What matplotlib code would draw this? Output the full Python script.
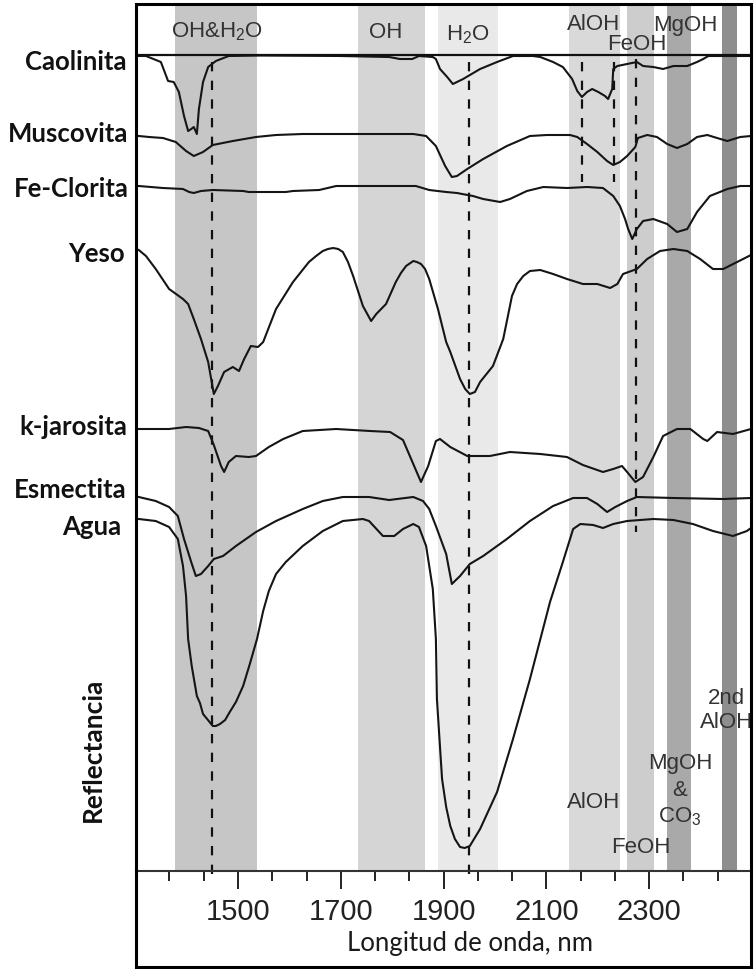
import matplotlib
matplotlib.use('Agg')
import matplotlib.pyplot as plt
import numpy as np
from matplotlib.patches import Rectangle

# --- espectros: longitud de onda (nm) y reflectancia relativa (desplazada) ---
caolinita_nm = [1307, 1321, 1350, 1364, 1375, 1385, 1395, 1403, 1409, 1414, 1420, 1424, 1432, 1442,
                1457, 1482, 1543, 1698, 1794, 1815, 1839, 1852, 1879, 1885, 1893, 1907, 1918, 1938,
                1971, 2004, 2035, 2074, 2088, 2113, 2132, 2150, 2160, 2169, 2179, 2189, 2201, 2214,
                2220, 2228, 2230, 2238, 2257, 2276, 2288, 2308, 2327, 2347, 2374, 2393, 2405, 2415, 2498]
caolinita_r = [81.5, 81.5, 80.9, 79.0, 78.9, 77.9, 75.5, 74.0, 74.2, 74.4, 73.7, 76.2, 78.9, 80.4,
               81.0, 81.5, 81.55, 81.5, 81.4, 81.2, 81.2, 81.5, 81.4, 81.2, 80.2, 79.4, 78.7, 79.2,
               80.2, 80.9, 81.5, 81.5, 81.4, 80.9, 80.4, 79.2, 78.0, 77.4, 77.9, 78.2, 77.9, 77.5,
               77.2, 78.2, 80.2, 80.5, 80.7, 80.9, 80.5, 80.4, 80.2, 80.5, 80.5, 80.9, 81.2, 81.5, 81.5]

muscovita_nm = [1307, 1327, 1354, 1379, 1399, 1414, 1432, 1451, 1490, 1535, 1574, 1626, 1691, 1755,
                1841, 1866, 1885, 1903, 1916, 1926, 1946, 1977, 2023, 2068, 2101, 2146, 2160, 2179,
                2199, 2218, 2230, 2243, 2257, 2273, 2278, 2296, 2315, 2335, 2354, 2374, 2393, 2413,
                2432, 2452, 2477, 2498]
muscovita_r = [73.5, 73.4, 73.3, 72.9, 72.0, 71.5, 71.9, 72.6, 73.0, 73.4, 73.6, 73.7, 73.7, 73.7,
               73.7, 73.5, 72.5, 70.5, 69.4, 69.5, 70.2, 71.2, 72.5, 73.5, 73.6, 73.6, 73.4, 72.7,
               71.9, 71.0, 70.6, 70.9, 71.5, 72.4, 73.3, 73.6, 73.4, 72.7, 72.3, 72.7, 73.4, 73.6,
               73.3, 73.0, 73.4, 73.5]

feclorita_nm = [1307, 1354, 1393, 1405, 1414, 1428, 1451, 1510, 1521, 1593, 1607, 1658, 1691, 1755,
                1846, 1872, 1905, 1926, 1957, 1977, 2010, 2029, 2062, 2094, 2140, 2179, 2210, 2230,
                2243, 2253, 2259, 2267, 2276, 2288, 2308, 2335, 2354, 2374, 2393, 2418, 2452, 2477, 2498]
feclorita_r = [68.5, 68.3, 68.2, 67.9, 67.8, 68.0, 68.1, 68.0, 67.9, 67.9, 68.0, 68.1, 68.5, 68.5,
               68.5, 68.1, 67.9, 67.8, 67.5, 67.2, 66.9, 67.2, 68.0, 68.4, 68.3, 68.4, 68.3, 67.5,
               66.5, 65.2, 64.2, 63.2, 64.2, 65.0, 65.2, 64.7, 63.9, 64.2, 65.9, 67.5, 68.2, 68.5, 68.5]

yeso_nm = [1307, 1321, 1340, 1366, 1393, 1403, 1414, 1428, 1442, 1453, 1461, 1473, 1490, 1502, 1512,
           1525, 1539, 1549, 1574, 1607, 1638, 1652, 1665, 1675, 1685, 1695, 1704, 1714, 1724, 1743,
           1759, 1769, 1788, 1807, 1817, 1827, 1841, 1848, 1856, 1864, 1872, 1889, 1905, 1913, 1932,
           1942, 1951, 1961, 1971, 1996, 2016, 2033, 2043, 2055, 2068, 2088, 2113, 2140, 2171, 2199,
           2224, 2238, 2249, 2276, 2296, 2321, 2347, 2374, 2399, 2424, 2444, 2471, 2498]
yeso_r = [62.1, 61.5, 60.2, 58.2, 57.2, 56.7, 55.2, 53.2, 50.9, 47.7, 48.5, 49.9, 50.4, 50.0, 51.2,
          52.5, 52.4, 52.9, 56.2, 58.9, 60.9, 61.5, 62.0, 62.2, 62.3, 62.2, 61.9, 60.9, 59.5, 56.5,
          55.0, 55.7, 56.7, 58.9, 59.8, 60.5, 61.0, 60.9, 60.7, 60.2, 59.2, 56.2, 52.9, 51.9, 49.2,
          48.2, 47.7, 47.9, 48.9, 50.5, 53.2, 57.5, 58.7, 59.5, 60.0, 60.1, 59.7, 59.2, 58.7, 58.7,
          58.3, 58.7, 59.7, 60.2, 61.2, 62.0, 62.2, 62.0, 61.2, 60.2, 60.2, 60.9, 61.6]

kjarosita_nm = [1307, 1366, 1399, 1424, 1442, 1453, 1467, 1473, 1482, 1496, 1521, 1535, 1560, 1588,
                1626, 1691, 1757, 1796, 1821, 1841, 1856, 1870, 1885, 1893, 1913, 1946, 1990, 2029,
                2088, 2140, 2171, 2210, 2230, 2247, 2257, 2273, 2288, 2308, 2327, 2354, 2380, 2405,
                2413, 2432, 2463, 2498]
kjarosita_r = [44.2, 44.2, 44.4, 44.3, 44.0, 42.6, 40.5, 39.9, 40.9, 41.5, 41.4, 41.5, 42.4, 43.2,
               44.0, 44.2, 44.0, 43.9, 43.1, 40.7, 38.9, 40.5, 43.0, 43.2, 42.4, 41.5, 41.5, 41.9,
               41.7, 41.4, 40.6, 39.9, 40.2, 40.5, 39.9, 38.9, 39.4, 41.4, 43.5, 44.2, 44.2, 43.2,
               43.0, 43.9, 43.7, 44.2]

esmectita_nm = [1307, 1340, 1366, 1383, 1395, 1409, 1418, 1428, 1442, 1453, 1471, 1496, 1535, 1574,
                1626, 1665, 1704, 1755, 1794, 1841, 1860, 1872, 1885, 1905, 1916, 1932, 1951, 1977,
                2023, 2068, 2113, 2152, 2179, 2199, 2218, 2234, 2257, 2276, 2347, 2444, 2498]
esmectita_r = [37.4, 37.0, 36.4, 35.5, 33.2, 30.9, 29.5, 29.7, 30.5, 31.2, 31.5, 32.5, 33.9, 35.0,
               36.2, 37.0, 37.4, 37.4, 37.1, 37.4, 37.0, 36.2, 34.5, 31.7, 28.7, 29.5, 30.7, 31.5,
               33.2, 35.0, 36.5, 37.3, 37.3, 36.7, 35.9, 36.4, 37.0, 37.4, 37.3, 37.2, 37.3]

agua_nm = [1307, 1340, 1366, 1383, 1393, 1399, 1403, 1410, 1416, 1420, 1426, 1432, 1440, 1451, 1457,
           1465, 1475, 1484, 1496, 1510, 1523, 1537, 1549, 1560, 1574, 1593, 1626, 1665, 1704, 1743,
           1755, 1782, 1804, 1821, 1841, 1852, 1866, 1879, 1885, 1887, 1897, 1905, 1913, 1922, 1932,
           1941, 1951, 1971, 2004, 2035, 2068, 2107, 2132, 2152, 2166, 2191, 2210, 2230, 2257, 2308,
           2347, 2385, 2424, 2463, 2490, 2498]
agua_r = [35.2, 35.0, 34.4, 33.2, 30.5, 27.5, 23.2, 20.5, 18.7, 17.5, 16.8, 15.7, 15.2, 14.5, 14.5,
          14.7, 15.1, 15.9, 16.9, 18.5, 20.7, 23.2, 26.0, 28.0, 29.7, 30.9, 32.5, 34.0, 35.0, 35.2,
          35.0, 33.5, 33.5, 34.2, 34.7, 34.4, 32.5, 28.2, 23.2, 17.2, 9.2, 6.4, 4.5, 3.2, 2.4,
          2.3, 2.5, 4.2, 7.9, 13.2, 19.2, 26.9, 30.9, 34.2, 34.7, 34.6, 34.3, 34.7, 35.0, 35.2,
          35.1, 34.7, 34.0, 33.5, 34.0, 34.3]

nombres = ['Caolinita', 'Muscovita', 'Fe-Clorita', 'Yeso', 'k-jarosita', 'Esmectita', 'Agua']
nombres_r = [80.2, 73.0, 67.5, 61.0, 43.7, 37.4, 33.7]

# bandas de absorcion (nm)
bandas_ini = [1377, 1733, 1889, 2144, 2257, 2335, 2441]
bandas_fin = [1537, 1864, 2005, 2244, 2309, 2381, 2470]
bandas_color = ['#c6c6c6', '#d5d5d5', '#e9e9e9', '#d9d9d9', '#cdcdcd', '#a9a9a9', '#8e8e8e']

# lineas de referencia (nm, desde, hasta)
ref_nm = [1450, 1950, 2170, 2231, 2274]
ref_top = [80.9, 80.9, 80.9, 80.9, 81.2]
ref_bot = [-0.6, -0.8, 68.9, 68.9, 33.9]

cabecera = ['OH&H$_{\\mathrm{2}}$O', 'OH', 'H$_{\\mathrm{2}}$O', 'AlOH', 'FeOH', 'MgOH']
cabecera_nm = [1459, 1788, 1948, 2191, 2276, 2370]
cabecera_r = [84.0, 84.0, 83.7, 84.7, 82.7, 84.7]

abajo = ['AlOH', 'FeOH', 'MgOH', '&', 'CO$_{\\mathrm{3}}$', '2nd', 'AlOH']
abajo_nm = [2191, 2284, 2360, 2360, 2360, 2450, 2450]
abajo_r = [6.9, 2.4, 10.9, 8.2, 5.5, 17.4, 14.9]

plt.rcParams['mathtext.fontset'] = 'custom'
plt.rcParams['mathtext.rm'] = 'Liberation Sans'
plt.rcParams['mathtext.it'] = 'Liberation Sans'
plt.rcParams['font.family'] = 'Liberation Sans'

fig = plt.figure(figsize=(7.54, 9.70), dpi=100)
ax = fig.add_axes([136 / 754, 1 - 872 / 970, 615 / 754, 867 / 970])
ax.set_xlim(1301.6, 2498)
ax.set_ylim(0, 86.7)

for a, b, c in zip(bandas_ini, bandas_fin, bandas_color):
    ax.axvspan(a, b, color=c, lw=0, zorder=0)

for x, t, b in zip(ref_nm, ref_top, ref_bot):
    ln, = ax.plot([x, x], [t, b], color='#111111', lw=1.6, zorder=1, clip_on=False)
    ln.set_dashes((4.2, 4.2))

ax.axhline(81.6, color='#111111', lw=1.6, zorder=3)

curvas = [(caolinita_nm, caolinita_r), (muscovita_nm, muscovita_r), (feclorita_nm, feclorita_r),
          (yeso_nm, yeso_r), (kjarosita_nm, kjarosita_r), (esmectita_nm, esmectita_r), (agua_nm, agua_r)]
for xs, ys in curvas:
    ax.plot(xs, ys, color='#151515', lw=1.5, zorder=2, solid_joinstyle='round')

for s, x, y in zip(cabecera, cabecera_nm, cabecera_r):
    ax.text(x, y, s, ha='center', va='center', fontsize=16, color='#333333')
for s, x, y in zip(abajo, abajo_nm, abajo_r):
    ax.text(x, y, s, ha='center', va='center', fontsize=16, color='#333333')

# etiquetas de los minerales, a la izquierda del marco
lab_x = [-0.016, -0.013, -0.011, -0.019, -0.015, -0.015, -0.024]
for s, x, y in zip(nombres, lab_x, nombres_r):
    ax.text(x, y, s, transform=ax.get_yaxis_transform(), ha='right', va='baseline',
            fontsize=18.5, fontweight='bold', family='Lato', color='#111111')
ax.text(-0.070, 12.2, 'Reflectancia', transform=ax.get_yaxis_transform(), rotation=90,
        ha='center', va='center', fontsize=19, fontweight='bold', family='Lato', color='#111111')

for side in ['left', 'right', 'top']:
    ax.spines[side].set_visible(False)
ax.spines['bottom'].set_linewidth(1.5)
ax.spines['bottom'].set_color('#333333')
ax.set_yticks([])
ax.set_xticks([1500, 1700, 1900, 2100, 2300])
ax.set_xticks(np.arange(1500 - 400 / 3, 2480, 200 / 3), minor=True)
ax.tick_params(axis='x', which='major', direction='out', length=13, width=1.4, color='#222222',
               labelsize=21, labelcolor='#222222', pad=6)
ax.tick_params(axis='x', which='minor', direction='out', length=7, width=1.4, color='#222222')
ax.set_xlabel('Longitud de onda, nm', family='Lato', fontsize=18.5, color='#1a1a1a')
ax.xaxis.set_label_coords(0.543, -0.082)
ax.xaxis.label.set_va('center')

fig.add_artist(Rectangle((136 / 754, 2 / 970), 615 / 754, 963 / 970, transform=fig.transFigure,
                         fill=False, lw=2.2, ec='black'))

plt.savefig('out.png', dpi=100)
